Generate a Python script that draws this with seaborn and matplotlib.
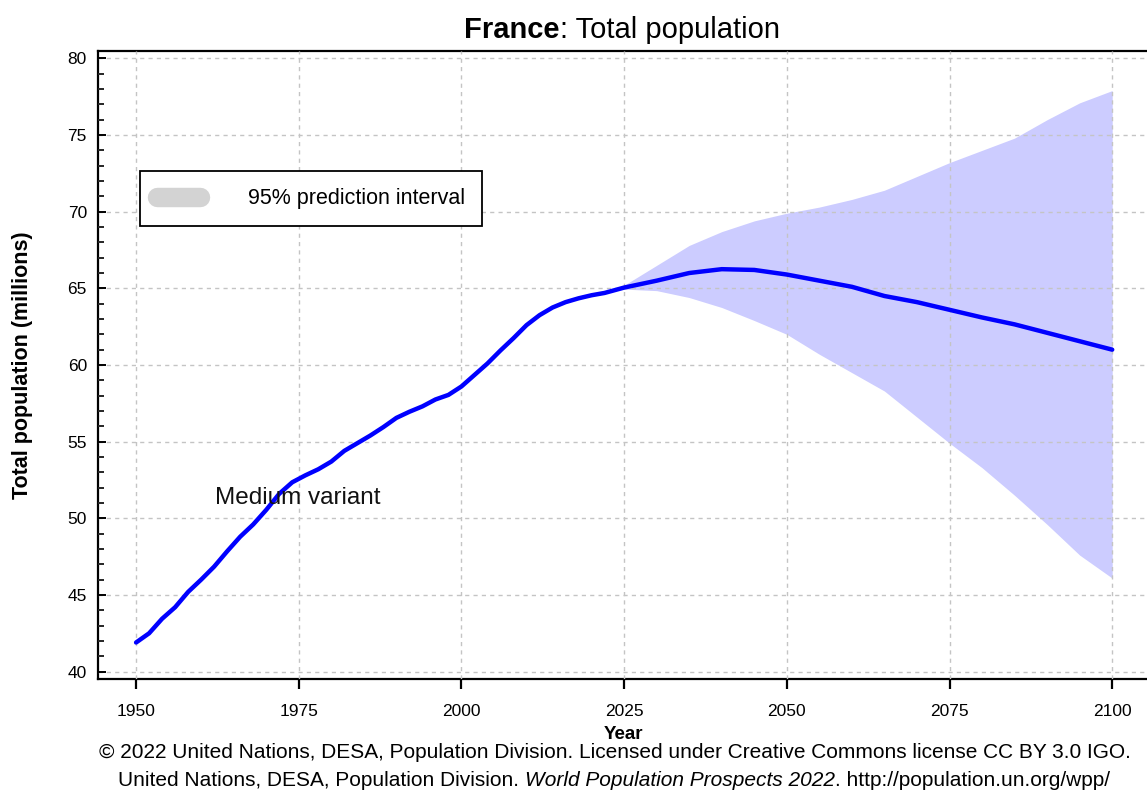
import pandas as pd
import matplotlib.pyplot as plt
import seaborn as sns
from matplotlib.lines import Line2D
from matplotlib.ticker import MultipleLocator

# --- data (millions) ---
years = [1950, 1952, 1954, 1956, 1958, 1960, 1962, 1964, 1966, 1968, 1970,
         1972, 1974, 1976, 1978, 1980, 1982, 1984, 1986, 1988, 1990, 1992,
         1994, 1996, 1998, 2000, 2002, 2004, 2006, 2008, 2010, 2012, 2014,
         2016, 2018, 2020, 2022, 2025, 2030, 2035, 2040, 2045, 2050, 2055,
         2060, 2065, 2070, 2075, 2080, 2085, 2090, 2095, 2100]
medium = [41.9, 42.5, 43.45, 44.2, 45.2, 46.0, 46.85, 47.85, 48.8, 49.6, 50.55,
          51.6, 52.35, 52.8, 53.2, 53.7, 54.4, 54.9, 55.4, 55.95, 56.55, 56.95,
          57.3, 57.75, 58.05, 58.6, 59.35, 60.1, 60.95, 61.75, 62.6, 63.25, 63.75,
          64.1, 64.35, 64.55, 64.7, 65.05, 65.5, 66.0, 66.25, 66.2, 65.9, 65.5,
          65.1, 64.5, 64.1, 63.6, 63.1, 62.65, 62.1, 61.55, 61.0]

band_years = [2022, 2025, 2030, 2035, 2040, 2045, 2050, 2055, 2060, 2065,
              2070, 2075, 2080, 2085, 2090, 2095, 2100]
band_low = [64.75, 64.95, 64.85, 64.4, 63.75, 62.9, 62.0, 60.7, 59.5, 58.3,
            56.6, 54.9, 53.3, 51.5, 49.6, 47.6, 46.1]
band_high = [64.8, 65.2, 66.5, 67.8, 68.7, 69.4, 69.9, 70.3, 70.8, 71.4,
             72.3, 73.2, 74.0, 74.8, 76.0, 77.1, 77.9]

x_ticks = [1950, 1975, 2000, 2025, 2050, 2075, 2100]
y_ticks = [40, 45, 50, 55, 60, 65, 70, 75, 80]

# --- style ---
sns.set_theme(style="white")
plt.rcParams['font.family'] = ['Liberation Sans', 'DejaVu Sans']
plt.rcParams['text.color'] = 'black'
plt.rcParams['axes.labelcolor'] = 'black'

fig = plt.figure(figsize=(11.47, 7.94), dpi=100)
ax = fig.add_axes([98 / 1147, (794 - 679.3) / 794, 1050 / 1147, 628.6 / 794])

# prediction band + medium variant
ax.fill_between(band_years, band_low, band_high, color='#CCCCFF', lw=0, zorder=1)
df = pd.DataFrame({'Year': years, 'Population': medium})
sns.lineplot(data=df, x='Year', y='Population', color='#0000FF', lw=3.2,
             ax=ax, zorder=3, solid_joinstyle='round', solid_capstyle='round')

ax.set_xlim(1944.15, 2105.5)
ax.set_ylim(39.5, 80.5)
ax.set_xticks(x_ticks)
ax.set_yticks(y_ticks)
ax.yaxis.set_minor_locator(MultipleLocator(1))

ax.tick_params(axis='y', which='major', direction='in', length=6, width=1.4,
               labelsize=12.5, pad=8, left=True, colors='black')
ax.tick_params(axis='y', which='minor', direction='in', length=4, width=1.4, left=True)
ax.tick_params(axis='x', which='major', direction='out', length=7, width=1.6,
               labelsize=12.5, pad=11, bottom=True, colors='black')

ax.grid(True, which='major', color='#C4C4C4', linestyle=(0, (3, 3)), lw=1)
ax.set_axisbelow(False)

for side in ['left', 'bottom', 'top']:
    ax.spines[side].set_color('black')
    ax.spines[side].set_linewidth(1.6)
ax.spines['right'].set_visible(False)

ax.set_xlabel('Year', fontsize=13.5, fontweight='bold')
ax.xaxis.set_label_coords(0.5, -0.074)
ax.set_ylabel('Total population (millions)', fontsize=15.5, fontweight='bold')
ax.yaxis.set_label_coords(-0.062, 0.5)

ax.text(1962.2, 51.3, 'Medium variant', fontsize=17.5, va='center', ha='left', color='#111111')

# legend with a rounded grey swatch
handle = Line2D([0], [0], color='#D3D3D3', lw=14, solid_capstyle='round')
leg = ax.legend([handle], ['95% prediction interval'], loc='upper left',
                bbox_to_anchor=((140 - 98) / 1050, (679.3 - 171) / 628.6),
                borderaxespad=0, fontsize=15.5, handlelength=2.0, handletextpad=2.2,
                borderpad=0.8, fancybox=False, framealpha=1)
leg.get_frame().set_edgecolor('black')
leg.get_frame().set_linewidth(1.3)

# title: bold country name followed by plain text
t_a = fig.text(463 / 1147, 1 - 38 / 794, 'France', ha='left', va='baseline',
               fontsize=21, fontweight='bold')
title_rest = ax.annotate(': Total population', xy=(1, 0), xycoords=t_a, ha='left', va='bottom',
                         fontsize=21, annotation_clip=False)

# credits
fig.text(615 / 1147, 1 - 752 / 794,
         '\u00a9 2022 United Nations, DESA, Population Division. '
         'Licensed under Creative Commons license CC BY 3.0 IGO.',
         ha='center', va='center', fontsize=15)
c1 = fig.text(117 / 1147, 1 - 786 / 794, 'United Nations, DESA, Population Division. ',
              ha='left', va='baseline', fontsize=15)
c2 = ax.annotate('World Population Prospects 2022', xy=(1, 0), xycoords=c1,
                 ha='left', va='bottom', fontsize=15, style='italic', annotation_clip=False)
c3 = ax.annotate('. http://population.un.org/wpp/', xy=(1, 0), xycoords=c2,
                 ha='left', va='bottom', fontsize=15, annotation_clip=False)

# centre the chained pieces
fig.canvas.draw()
r = fig.canvas.get_renderer()
for first, last, centre in [(t_a, title_rest, 622), (c1, c3, 614)]:
    b0 = first.get_window_extent(r)
    b1 = last.get_window_extent(r)
    width = b1.x1 - b0.x0
    x, y = first.get_position()
    first.set_position(((centre - width / 2) / 1147, y))

plt.savefig('out.png', dpi=100, facecolor='white')
